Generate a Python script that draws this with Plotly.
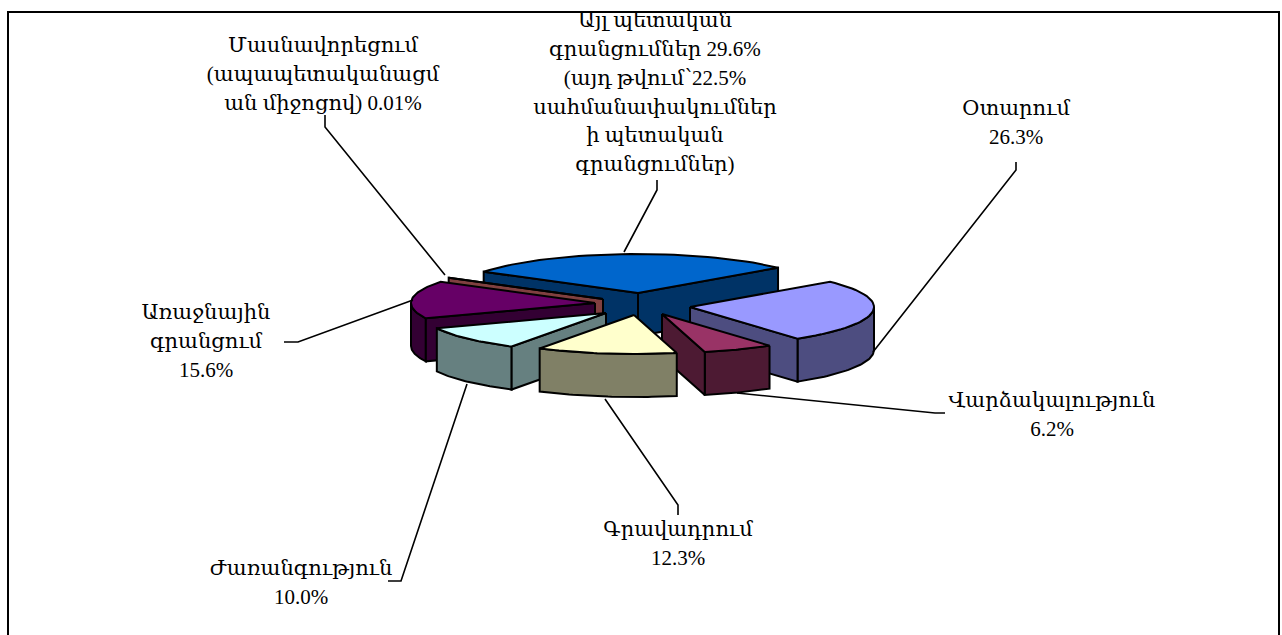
import numpy as np
import plotly.graph_objects as go

# --- data ---
categories = ["Այլ պետական գրանցումներ", "Օտարում", "Վարձակալություն", "Գրավադրում",
              "Ժառանգություն", "Առաջնային գրանցում", "Մասնավորեցում"]
values = [29.6, 26.3, 6.2, 12.3, 10.0, 15.6, 0.01]
label_lines = [
    ["Այլ պետական", "գրանցումներ 29.6%", "(այդ թվում՝22.5%", "սահմանափակումներ", "ի պետական", "գրանցումներ)"],
    ["Օտարում", "26.3%"],
    ["Վարձակալություն", "6.2%"],
    ["Գրավադրում", "12.3%"],
    ["Ժառանգություն", "10.0%"],
    ["Առաջնային", "գրանցում", "15.6%"],
    ["Մասնավորեցում", "(ապապետականացմ", "ան միջոցով) 0.01%"],
]

# --- styling / layout of the exploded 3-D pie ---
top_colors = ["#0066CC", "#9999FF", "#993366", "#FFFFCC", "#CCFFFF", "#660066", "#FF8080"]
side_colors = ["#003366", "#4D4D80", "#4D1A33", "#808066", "#668080", "#330033", "#804040"]
apex = [(638, 293), (690, 307), (662, 314), (634, 315), (606, 313), (595, 303), (603, 299)]
label_anchor = [(655, 22), (1016, 110), (1052, 402), (678, 531), (301, 570), (206, 314), (323, 47)]
leaders = [
    [(657, 180), (657, 190), (624, 252)],
    [(1016, 162), (1016, 170), (873, 352)],
    [(945, 413), (935, 413), (737, 393)],
    [(678, 515), (678, 505), (605, 399)],
    [(388, 581), (401, 581), (467, 384)],
    [(284, 342), (298, 342), (413, 300)],
    [(325, 115), (325, 127), (445, 275)],
]
draw_order = [0, 6, 5, 4, 1, 2, 3]
RX, RY, DEPTH = 184, 39, 43
START_ANGLE = -57.0
MIN_SWEEP = 0.9
LINE_H = 28.8
FONT = "Liberation Serif, DejaVu Serif, serif"
FONT_SIZE = 21

fig = go.Figure()


def rim(cx, cy, a0, a1, n=40):
    t = np.radians(np.linspace(a0, a1, n))
    return cx + RX * np.sin(t), cy - RY * np.cos(t)


def poly(x, y, color):
    x = np.r_[x, x[0]]
    y = np.r_[y, y[0]]
    fig.add_trace(go.Scatter(x=x, y=y, mode="lines", fill="toself", fillcolor=color,
                             line=dict(color="black", width=2), hoverinfo="skip",
                             showlegend=False))


starts = START_ANGLE + np.r_[0, np.cumsum(values)[:-1]] * 3.6
for i in draw_order:
    a0 = starts[i]
    a1 = a0 + max(values[i] * 3.6, MIN_SWEEP)
    cx, cy = apex[i]
    # outer wall: front half only
    w0, w1 = max(a0, 90), min(a1, 270)
    if w1 > w0:
        x, y = rim(cx, cy, w0, w1)
        poly(np.r_[x, x[::-1]], np.r_[y, y[::-1] + DEPTH], side_colors[i])
    # radial faces that look toward the viewer
    for ang, phi in ((a0, a0 - 90), (a1, a1 + 90)):
        if np.cos(np.radians(phi)) < 0:
            x, y = rim(cx, cy, ang, ang, 1)
            poly(np.array([cx, x[0], x[0], cx]),
                 np.array([cy, y[0], y[0] + DEPTH, cy + DEPTH]), side_colors[i])
    # top surface
    x, y = rim(cx, cy, a0, a1)
    poly(np.r_[cx, x], np.r_[cy, y], top_colors[i])

# leader lines
for pts in leaders:
    fig.add_trace(go.Scatter(x=[p[0] for p in pts], y=[p[1] for p in pts], mode="lines",
                             line=dict(color="black", width=1.6), hoverinfo="skip",
                             showlegend=False))

# labels, one text item per line for exact line spacing
tx, ty, tt = [], [], []
for lines, (ax, ay) in zip(label_lines, label_anchor):
    for k, s in enumerate(lines):
        tx.append(ax)
        ty.append(ay + k * LINE_H)
        tt.append(s)
fig.add_trace(go.Scatter(x=tx, y=ty, text=tt, mode="text", textposition="middle center",
                         textfont=dict(family=FONT, size=FONT_SIZE, color="#000000"),
                         hoverinfo="skip", showlegend=False))

fig.update_layout(
    width=1282, height=635, margin=dict(l=0, r=0, t=0, b=0),
    paper_bgcolor="white", plot_bgcolor="white",
    xaxis=dict(range=[0, 1282], visible=False, fixedrange=True),
    yaxis=dict(range=[635, 0], visible=False, fixedrange=True),
    shapes=[dict(type="rect", xref="x", yref="y", x0=8, y0=12, x1=1279, y1=660,
                 line=dict(color="black", width=2), fillcolor="rgba(0,0,0,0)", layer="below")],
)
fig.write_html("out.html", config={"displayModeBar": False},
               post_script="document.body.style.margin='0';document.body.style.overflow='hidden';")
